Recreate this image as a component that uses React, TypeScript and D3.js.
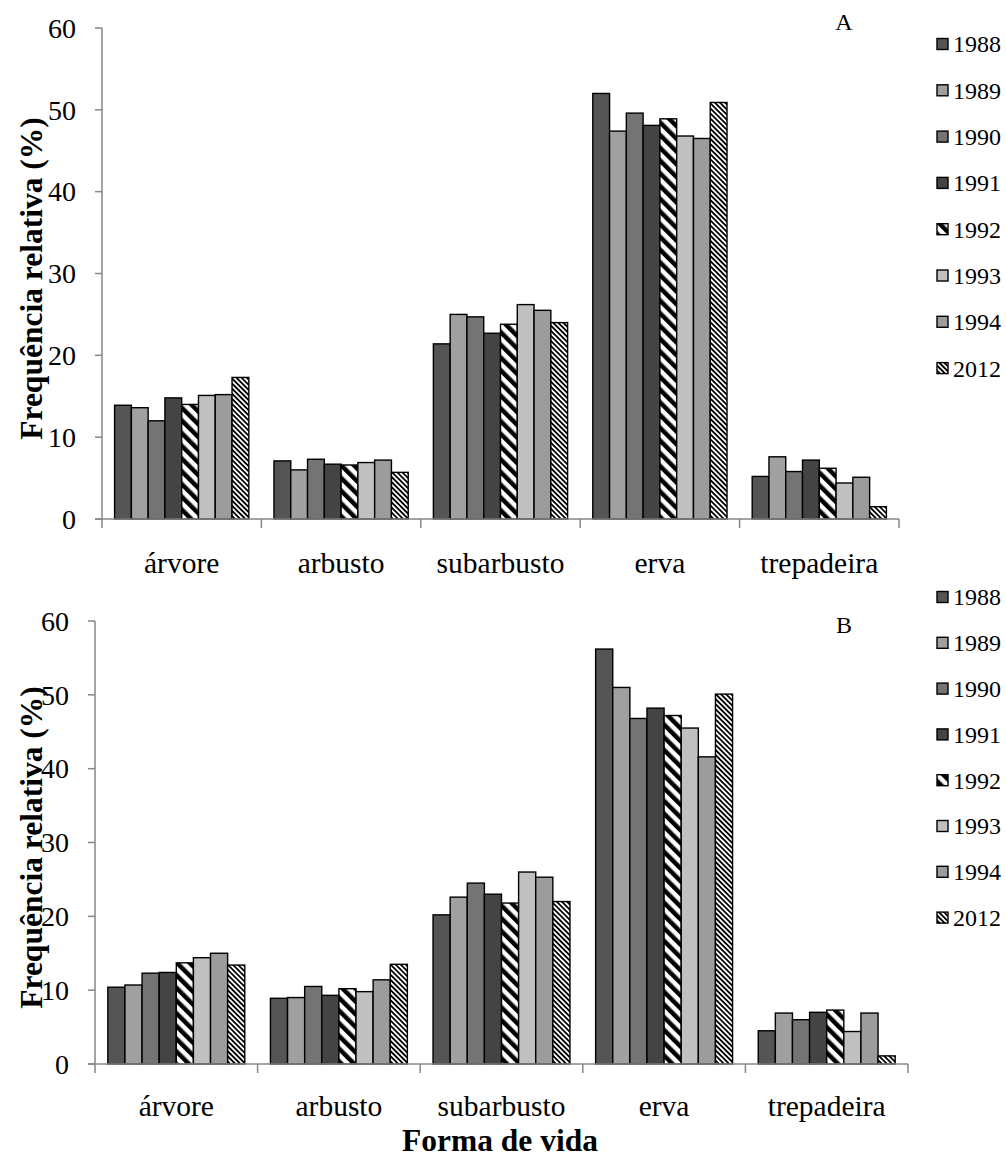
import React from "react";
import * as d3 from "d3";

const categories = ["árvore", "arbusto", "subarbusto", "erva", "trepadeira"];
const years = ["1988", "1989", "1990", "1991", "1992", "1993", "1994", "2012"];
const yTicks = [0, 10, 20, 30, 40, 50, 60];

// values[category][year]
const valuesA = [
  [13.9, 13.6, 12.0, 14.8, 14.0, 15.1, 15.2, 17.3],
  [7.1, 6.0, 7.3, 6.7, 6.6, 6.9, 7.2, 5.7],
  [21.4, 25.0, 24.7, 22.7, 23.8, 26.2, 25.5, 24.0],
  [52.0, 47.4, 49.6, 48.1, 48.9, 46.8, 46.5, 50.9],
  [5.2, 7.6, 5.8, 7.2, 6.2, 4.4, 5.1, 1.5],
];
const valuesB = [
  [10.4, 10.7, 12.3, 12.4, 13.7, 14.4, 15.0, 13.4],
  [8.9, 9.0, 10.5, 9.3, 10.2, 9.8, 11.4, 13.5],
  [20.2, 22.6, 24.5, 23.0, 21.8, 26.0, 25.3, 22.0],
  [56.2, 51.0, 46.8, 48.2, 47.2, 45.5, 41.6, 50.1],
  [4.5, 6.9, 6.0, 7.0, 7.3, 4.4, 6.9, 1.1],
];

const fills = ["#555555", "#a0a0a0", "#747474", "#444444", "url(#wide)", "#c0c0c0", "#9c9c9c", "url(#narrow)"];

const SERIF = "'Liberation Serif', 'Times New Roman', serif";
const AXIS = "#868686";

type PanelProps = {
  values: number[][];
  x0: number; x1: number; yTop: number; yBase: number;
  label: string; labelY: number; legendY0: number; legendStep: number; catOffset: number;
};

function Panel({ values, x0, x1, yTop, yBase, label, labelY, legendY0, legendStep, catOffset }: PanelProps) {
  const y = d3.scaleLinear().domain([0, 60]).range([yBase, yTop]);
  const xc = d3.scaleBand<string>().domain(categories).range([x0, x1]).padding(0);
  const xs = d3.scaleBand<string>().domain(years).range([0, xc.bandwidth()]).paddingInner(0).paddingOuter(0.75);
  const boundaries = d3.range(categories.length + 1).map((i) => x0 + i * xc.step());
  return (
    <g>
      {categories.map((c, ci) => (
        <g key={c}>
          {years.map((yr, yi) => {
            const v = values[ci][yi];
            const bx = (xc(c) as number) + (xs(yr) as number);
            return (
              <rect key={yr} x={bx} y={y(v)} width={xs.bandwidth()} height={yBase - y(v)}
                fill={fills[yi]} stroke="#000" strokeWidth={1.4} />
            );
          })}
        </g>
      ))}
      <line x1={x0} x2={x0} y1={yTop} y2={yBase} stroke={AXIS} strokeWidth={1.5} />
      {yTicks.map((t) => (
        <g key={t}>
          <line x1={x0 - 7} x2={x0} y1={y(t)} y2={y(t)} stroke={AXIS} strokeWidth={1.5} />
          <text x={x0 - 26} y={y(t)} dy="0.35em" textAnchor="end" fontFamily={SERIF} fontSize={28} fill="#000">{t}</text>
        </g>
      ))}
      <line x1={x0 - 7} x2={x1} y1={yBase} y2={yBase} stroke={AXIS} strokeWidth={1.5} />
      {boundaries.map((b, i) => (
        <line key={i} x1={b} x2={b} y1={yBase} y2={yBase + 9} stroke={AXIS} strokeWidth={1.5} />
      ))}
      {categories.map((c) => (
        <text key={c} x={(xc(c) as number) + xc.bandwidth() / 2} y={yBase + catOffset} textAnchor="middle"
          fontFamily={SERIF} fontSize={29.5} fill="#000">{c}</text>
      ))}
      <text transform={`translate(42,${(yTop + yBase) / 2 + 5}) rotate(-90)`} textAnchor="middle"
        fontFamily={SERIF} fontSize={31.5} fontWeight="bold" fill="#000">Frequência relativa (%)</text>
      <text x={844} y={labelY} textAnchor="middle" fontFamily={SERIF} fontSize={24} fill="#000">{label}</text>
      {years.map((yr, i) => {
        const cy = legendY0 + i * legendStep;
        return (
          <g key={yr}>
            <rect x={937} y={cy - 5.5} width={11} height={11} fill={fills[i]} stroke="#000" strokeWidth={1.4} />
            <text x={953} y={cy} dy="0.35em" fontFamily={SERIF} fontSize={24} fill="#000">{yr}</text>
          </g>
        );
      })}
    </g>
  );
}

export default function App() {
  return (
    <svg width={1006} height={1158} style={{ position: "absolute", left: 0, top: 0, background: "#fff" }}>
      <defs>
        <pattern id="wide" patternUnits="userSpaceOnUse" width={9} height={9} patternTransform="rotate(-45)">
          <rect x={0} y={0} width={9} height={9} fill="#fff" />
          <rect x={0} y={0} width={4.5} height={9} fill="#000" />
        </pattern>
        <pattern id="narrow" patternUnits="userSpaceOnUse" width={3.6} height={3.6} patternTransform="rotate(-45)">
          <rect x={0} y={0} width={3.6} height={3.6} fill="#fff" />
          <rect x={0} y={0} width={1.8} height={3.6} fill="#000" />
        </pattern>
      </defs>
      <rect width={1006} height={1158} fill="#fff" />
      <Panel values={valuesA} x0={102} x1={899} yTop={28} yBase={519} label="A" labelY={30}
        legendY0={44} legendStep={46.3} catOffset={54} />
      <Panel values={valuesB} x0={95} x1={908} yTop={621} yBase={1064} label="B" labelY={633}
        legendY0={597} legendStep={45.8} catOffset={52} />
      <text x={500} y={1151} textAnchor="middle" fontFamily={SERIF} fontSize={31.5} fontWeight="bold" fill="#000">Forma de vida</text>
    </svg>
  );
}
